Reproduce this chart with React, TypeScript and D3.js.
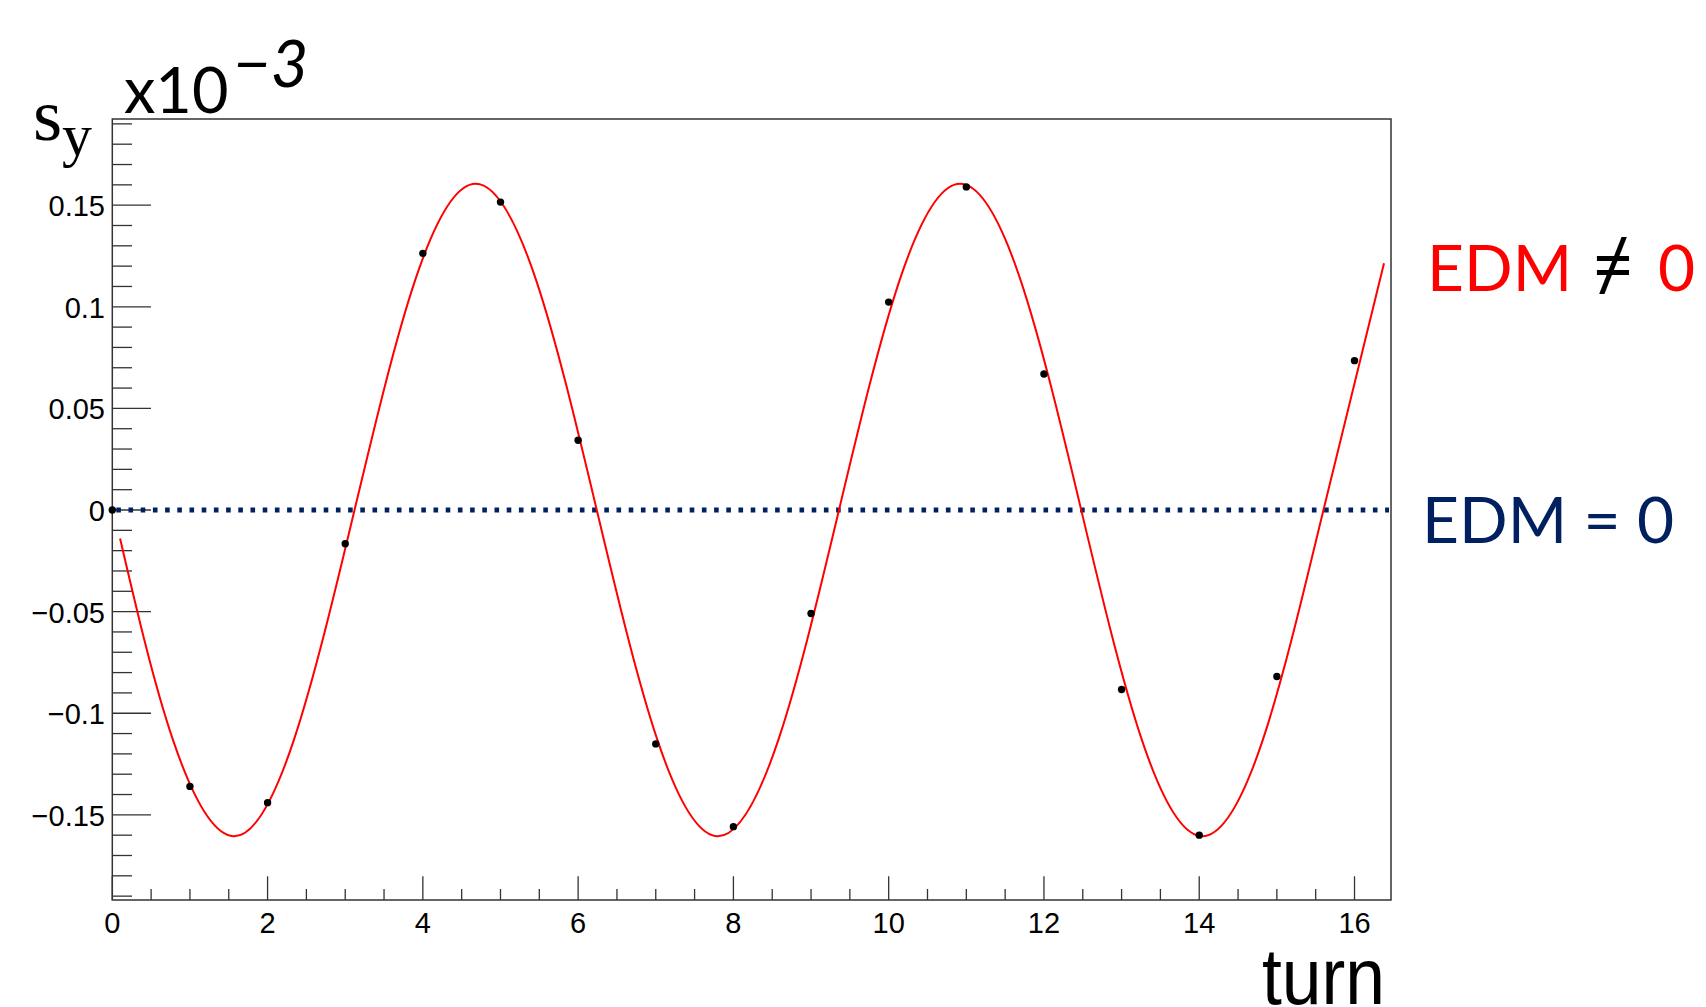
import React from "react";
import * as d3 from "d3";

// measured data points (turn, s_y in units of 1e-3)
const turns = [0, 1, 2, 3, 4, 5, 6, 7, 8, 9, 10, 11, 12, 13, 14, 15, 16];
const syValues = [0, -0.136, -0.144, -0.0166, 0.1263, 0.1515, 0.0343, -0.1151, -0.1558, -0.0509, 0.1023, 0.159, 0.0669, -0.0883, -0.160, -0.0819, 0.0735];

// fitted curve samples
const fitTurn = [0.1, 0.78, 1.56, 2.34, 3.12, 3.9, 4.68, 5.46, 6.24, 7.02, 7.8, 8.58, 9.36, 10.14, 10.92, 11.7, 12.48, 13.26, 14.04, 14.82, 15.6, 16.38];
const fitSy = [-0.014, -0.113, -0.1605, -0.113, 0, 0.113, 0.1605, 0.113, 0, -0.113, -0.1605, -0.113, 0, 0.113, 0.1605, 0.113, 0, -0.113, -0.1605, -0.113, 0, 0.1214];

const xMajorTicks = [0, 2, 4, 6, 8, 10, 12, 14, 16];
const yMajorTicks = [-0.15, -0.1, -0.05, 0, 0.05, 0.1, 0.15];
const yTickLabels = ["\u22120.15", "\u22120.1", "\u22120.05", "0", "0.05", "0.1", "0.15"];

export default function App() {
  const W = 1706, H = 1007;
  const left = 112.3, right = 1391, top = 119, bottom = 900;
  const x = d3.scaleLinear().domain([0, 16.47]).range([left, right]);
  const y = d3.scaleLinear().domain([-0.1919, 0.1924]).range([bottom, top]);

  const xMinor = d3.range(0, 16.47, 0.5).filter((v) => Math.abs(v % 2) > 1e-6);
  const yMinor = d3.range(-19, 20).map((i) => i / 100).filter((v) => Math.abs((Math.round(v * 100)) % 5) !== 0);

  const line = d3
    .line<number>()
    .x((_, i) => x(fitTurn[i]))
    .y((d) => y(d))
    .curve(d3.curveNatural);

  const axisColor = "#333";
  const sans = "'Liberation Sans', Arial, sans-serif";
  const cal = "Lato, 'Open Sans', sans-serif";

  return (
    <svg width={W} height={H} style={{ position: "absolute", left: 0, top: 0, background: "#fff" }}>
      <rect x={0} y={0} width={W} height={H} fill="#fff" />
      {/* frame */}
      <rect x={left} y={top} width={right - left} height={bottom - top} fill="none" stroke={axisColor} strokeWidth={1.5} />

      {/* y ticks */}
      {yMajorTicks.map((v) => (
        <line key={"ym" + v} x1={left} x2={left + 38.7} y1={y(v)} y2={y(v)} stroke={axisColor} strokeWidth={1.3} />
      ))}
      {yMinor.map((v) => (
        <line key={"yn" + v} x1={left} x2={left + 19.7} y1={y(v)} y2={y(v)} stroke={axisColor} strokeWidth={1.3} />
      ))}
      {yMajorTicks.map((v, i) => (
        <text key={"yl" + v} x={105} y={y(v) + 11} textAnchor="end" fontFamily={sans} fontSize={29} fill="#000">
          {yTickLabels[i]}
        </text>
      ))}

      {/* x ticks */}
      {xMajorTicks.map((v) => (
        <line key={"xm" + v} x1={x(v)} x2={x(v)} y1={bottom} y2={bottom - 23.7} stroke={axisColor} strokeWidth={1.3} />
      ))}
      {xMinor.map((v) => (
        <line key={"xn" + v} x1={x(v)} x2={x(v)} y1={bottom} y2={bottom - 11} stroke={axisColor} strokeWidth={1.3} />
      ))}
      {xMajorTicks.map((v) => (
        <text key={"xl" + v} x={x(v)} y={932.5} textAnchor="middle" fontFamily={sans} fontSize={29} fill="#000">
          {v}
        </text>
      ))}

      {/* EDM = 0 dotted line */}
      <line x1={left + 4} x2={1389} y1={y(0)} y2={y(0)} stroke="#002060" strokeWidth={5} strokeDasharray="4.6 7.6" />

      {/* fitted curve */}
      <path d={line(fitSy) || ""} fill="none" stroke="#ff0000" strokeWidth={2} />

      {/* data points */}
      {turns.map((t, i) => (
        <circle key={"p" + t} cx={x(t)} cy={y(syValues[i])} r={3.7} fill="#000" />
      ))}

      {/* axis titles */}
      <text x={33} y={140} fontFamily="'Liberation Serif', 'DejaVu Serif', serif" fontSize={75} fill="#000">
        s
        <tspan x={62} y={155} fontSize={60}>y</tspan>
      </text>
      <text x={124} y={113} fontFamily={cal} fontSize={63} fill="#000">
        x10
      </text>
      <text x={233} y={87} fontFamily={cal} fontSize={65} fontStyle="italic" fill="#000">
        {"\u22123"}
      </text>
      <text x={1385} y={1004} textAnchor="end" fontFamily={sans} fontSize={80} textLength={123} lengthAdjust="spacingAndGlyphs" fill="#000">
        turn
      </text>

      {/* annotations */}
      <text x={1427} y={291} fontFamily={cal} fontSize={64} fill="#ff0000">
        EDM
      </text>
      <text x={1613} y={290} textAnchor="middle" fontFamily="'Noto Sans', 'Liberation Sans', sans-serif" fontSize={70} fill="#000">
        {"\u2260"}
      </text>
      <text x={1658} y={291} fontFamily={cal} fontSize={64} fill="#ff0000">
        0
      </text>
      <text x={1422} y={543} fontFamily={cal} fontSize={64} fill="#002060">
        EDM = 0
      </text>
    </svg>
  );
}
